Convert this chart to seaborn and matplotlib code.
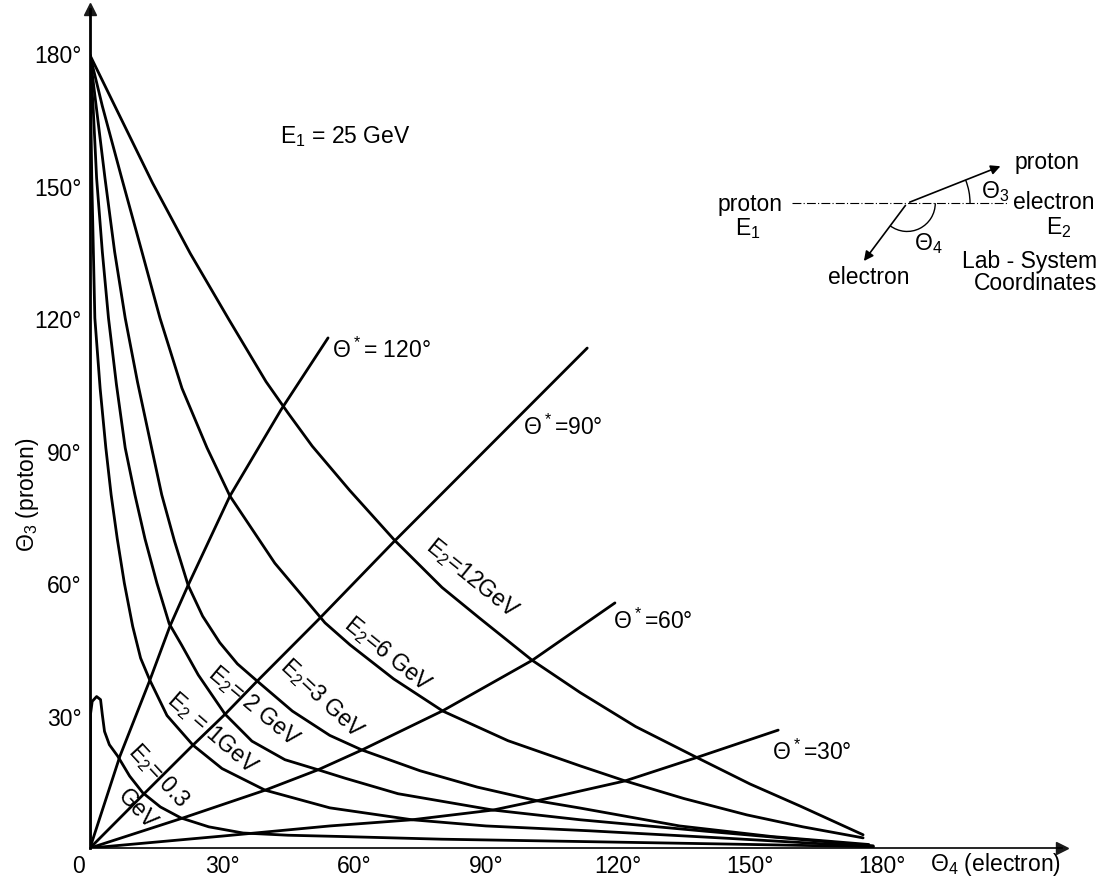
import matplotlib
matplotlib.use("Agg")
import matplotlib.pyplot as plt
import numpy as np
import pandas as pd
import seaborn as sns
from matplotlib.patches import Arc

# E2 curves: theta4 (electron) vs theta3 (proton), degrees
e12_x = [0, 5.5, 14.2, 22.8, 31.6, 40, 45, 50.5, 59, 69.3, 80, 88.6, 100.5, 111.4, 124, 137.9, 150, 161.4, 175.7]
e12_y = [179.5, 168.3, 150.6, 134.6, 119.6, 105.6, 98.5, 91.0, 81, 69.6, 59, 52, 42.5, 35.2, 27.5, 20.5, 14.5, 9.5, 3.0]
e6_x = [0, 2.8, 7.2, 11.8, 15.9, 20.9, 26.6, 31.8, 42, 53.4, 59.1, 69, 80.2, 95, 111.4, 121.6, 135, 149.3, 162, 175.7]
e6_y = [179.5, 168, 151.7, 135, 120, 104.1, 90.6, 79.7, 64.5, 51.0, 46.0, 38.3, 31.0, 24.3, 18.6, 15.2, 11.2, 7.5, 4.8, 2.3]
e3_x = [0, 1.4, 3.4, 5.6, 8.0, 10.8, 14.0, 16.3, 19.2, 22.3, 25.6, 29.5, 33.5, 38.0, 46, 54.5, 61.8, 75, 88, 101.6, 111.4, 134, 155, 177]
e3_y = [179.5, 168, 151.7, 135, 120, 105.5, 90.6, 80, 69.5, 59.5, 52.5, 46.5, 41.7, 37.8, 31, 25.5, 22.2, 17.5, 13.8, 10.7, 9.05, 5.0, 2.6, 0.8]
e2_x = [0, 0.7, 1.5, 2.8, 4.2, 6.0, 8.0, 10.2, 12.5, 15.2, 18.0, 20.8, 24.6, 30.7, 36.8, 44.3, 51.9, 58, 70, 91.6, 111.4, 140, 178]
e2_y = [179.5, 168, 151.7, 135, 120, 105, 90.6, 80, 70, 60, 50.8, 46.0, 39.2, 30.3, 24.2, 20.0, 17.7, 15.8, 12.3, 8.6, 6.4, 3.8, 0.5]
e1_x = [0, 0.4, 1.1, 2.3, 3.6, 4.8, 6.2, 7.8, 9.7, 11.5, 13.6, 17.5, 23.4, 30, 39.8, 54.5, 73.2, 90, 113.6, 145, 178]
e1_y = [179.5, 151.7, 120, 104.1, 90.6, 80, 70, 60, 50.2, 43, 38.0, 30, 23.3, 18, 13.1, 9.1, 6.4, 5.0, 3.9, 2.2, 0.3]
e03_x = [0, 0.1, 0.5, 1.5, 2.4, 2.8, 3.3, 4.4, 6.3, 9, 12.0, 16, 20.7, 27, 34.8, 45, 57.5, 80, 110, 145, 178]
e03_y = [0, 30.2, 33.2, 34.3, 33.6, 30.2, 26.4, 23.4, 20.8, 16.3, 12.5, 9.3, 6.8, 4.8, 3.4, 2.9, 2.6, 2.0, 1.5, 0.9, 0.3]

# constant CM-angle lines
t120_x = [0, 6.8, 13.6, 18.2, 22.3, 31.8, 43.4, 54.1]
t120_y = [0, 20.8, 38.0, 50.3, 59.5, 79.7, 99.2, 115.5]
t90_x = [0, 12.5, 23.4, 30.7, 38.0, 51.8, 69.3, 113.0]
t90_y = [0, 12.5, 23.3, 30.3, 37.8, 51.6, 69.6, 113.2]
t60_x = [0, 21.1, 39.8, 51.8, 61.8, 80.2, 100.5, 119.3]
t60_y = [0, 6.8, 13.1, 17.7, 22.2, 31.1, 42.5, 55.5]
t30_x = [0, 30, 54.5, 73.2, 91.6, 101.6, 121.6, 137.9, 156.4]
t30_y = [0, 2.7, 5.0, 6.4, 8.6, 10.7, 15.2, 20.5, 26.7]

ticks = [30, 60, 90, 120, 150, 180]
tick_labels = ["30°", "60°", "90°", "120°", "150°", "180°"]

sns.set_theme(style="white")
plt.rcParams["font.family"] = ["Liberation Sans", "DejaVu Sans"]
plt.rcParams["mathtext.default"] = "regular"
plt.rcParams["text.color"] = "black"
plt.rcParams["xtick.color"] = "black"
plt.rcParams["ytick.color"] = "black"
FS = 16.5

fig = plt.figure(figsize=(11.18, 8.87), dpi=100)
ax = fig.add_axes([0.0805, 0.0428, 0.8698, 0.9461])

curves = [(e12_x, e12_y), (e6_x, e6_y), (e3_x, e3_y), (e2_x, e2_y), (e1_x, e1_y), (e03_x, e03_y),
          (t120_x, t120_y), (t90_x, t90_y), (t60_x, t60_y), (t30_x, t30_y)]
for cx, cy in curves:
    sns.lineplot(x=cx, y=cy, sort=False, estimator=None, color="black", lw=2.0, ax=ax)

ax.set_xlim(0, 221)
ax.set_ylim(0, 190)

# axes with arrow heads
for s in ["top", "right"]:
    ax.spines[s].set_visible(False)
ax.spines["left"].set_color("black")
ax.spines["left"].set_linewidth(2.0)
ax.spines["bottom"].set_color("black")
ax.spines["bottom"].set_linewidth(1.2)
ax.plot(1, 0, ">k", transform=ax.get_yaxis_transform(), clip_on=False, ms=8)
ax.plot(0, 1, "^k", transform=ax.get_xaxis_transform(), clip_on=False, ms=8)

ax.set_xticks(ticks)
ax.set_xticklabels(tick_labels, fontsize=FS)
ax.set_yticks(ticks)
ax.set_yticklabels(tick_labels, fontsize=FS)
ax.tick_params(direction="in", length=10, width=1.2, color="black")
ax.tick_params(axis="x", pad=4)
ax.tick_params(axis="y", pad=6)
ax.annotate("0", xy=(0, 0), xytext=(-4, -4), textcoords="offset points",
            ha="right", va="top", fontsize=FS)

ax.text(-14.3, 80.2, "Θ$_3$ (proton)", rotation=90, ha="center", va="center", fontsize=FS)
ax.text(205.7, -3.6, "Θ$_4$ (electron)", ha="center", va="center", fontsize=FS)
ax.text(43.2, 161.4, "E$_1$ = 25 GeV", ha="left", va="center", fontsize=FS)

# curve labels
lab = dict(ha="center", va="center", fontsize=FS, rotation_mode="anchor")
ax.text(86.8, 61.3, "E$_2$=12GeV", rotation=-39, **lab)
ax.text(67.7, 44.1, "E$_2$=6 GeV", rotation=-39, **lab)
ax.text(52.7, 34.0, "E$_2$=3 GeV", rotation=-43, **lab)
ax.text(37.3, 32.4, "E$_2$= 2 GeV", rotation=-40, **lab)
ax.text(27.8, 26.2, "E$_2$ = 1GeV", rotation=-41, **lab)
ax.text(15.5, 16.5, "E$_2$= 0.3", rotation=-47, **lab)
ax.text(10.7, 9.1, "GeV", rotation=-47, **lab)

ax.text(55, 113, "Θ$^*$= 120°", ha="left", va="center", fontsize=FS)
ax.text(98.4, 95.5, "Θ$^*$=90°", ha="left", va="center", fontsize=FS)
ax.text(118.9, 51.6, "Θ$^*$=60°", ha="left", va="center", fontsize=FS)
ax.text(155, 22.0, "Θ$^*$=30°", ha="left", va="center", fontsize=FS)

# lab-system sketch
vx, vy = 185.7, 146.0
ax.plot([159.5, 208.5], [vy, vy], color="black", lw=0.8, ls=(0, (8, 2, 1, 2)), clip_on=False)
ax.annotate("", xy=(207.5, 154.6), xytext=(vx, vy),
            arrowprops=dict(arrowstyle="-|>", color="black", lw=1.2, mutation_scale=14), annotation_clip=False)
ax.annotate("", xy=(175.5, 132.4), xytext=(vx, vy),
            arrowprops=dict(arrowstyle="-|>", color="black", lw=1.2, mutation_scale=14), annotation_clip=False)
ax.add_patch(Arc((vx, vy), 28.6, 28.5, theta1=0, theta2=21.6, color="black", lw=1.0, clip_on=False))
ax.add_patch(Arc((vx, vy), 12.8, 12.8, theta1=233, theta2=360, color="black", lw=1.0, clip_on=False))
ax.text(210.2, 155.5, "proton", ha="left", va="center", fontsize=FS)
ax.text(202.5, 148.9, "Θ$_3$", ha="left", va="center", fontsize=FS)
ax.text(209.8, 146.3, "electron", ha="left", va="center", fontsize=FS)
ax.text(220.2, 140.8, "E$_2$", ha="center", va="center", fontsize=FS)
ax.text(157.5, 146.0, "proton", ha="right", va="center", fontsize=FS)
ax.text(149.5, 140.4, "E$_1$", ha="center", va="center", fontsize=FS)
ax.text(190.5, 137.0, "Θ$_4$", ha="center", va="center", fontsize=FS)
ax.text(177.0, 129.5, "electron", ha="center", va="center", fontsize=FS)
ax.text(213.6, 133.0, "Lab - System", ha="center", va="center", fontsize=FS)
ax.text(214.8, 128.0, "Coordinates", ha="center", va="center", fontsize=FS)

fig.savefig("out.png", dpi=100)
